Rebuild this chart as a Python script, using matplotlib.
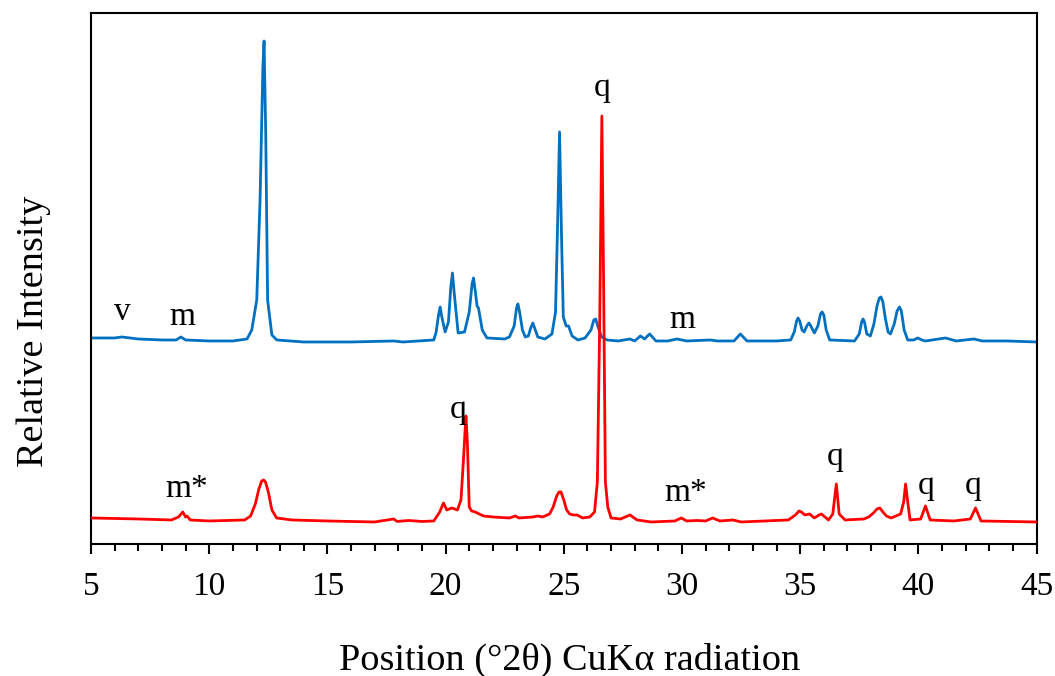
import matplotlib
matplotlib.use("Agg")
import matplotlib.pyplot as plt
from matplotlib.ticker import MultipleLocator, NullLocator

plt.rcParams['font.family'] = ['Liberation Serif', 'DejaVu Serif']

# upper pattern (blue), 2theta and relative intensity
blue_x = [5.0, 6.0, 6.3, 7.0, 8.0, 8.6, 8.8, 9.0, 10.0, 11.0, 11.6, 11.80, 12.01, 12.15,
          12.27, 12.32, 12.39, 12.47, 12.65, 12.86, 14.0, 16.0, 17.8, 18.2, 19.5,
          19.6, 19.7, 19.77, 19.84, 19.98, 20.12, 20.22, 20.29, 20.36, 20.53, 20.8, 21.0,
          21.12, 21.18, 21.26, 21.33, 21.39, 21.55, 21.75, 22.5, 22.7, 22.9, 23.0, 23.06,
          23.13, 23.25, 23.37, 23.5, 23.6, 23.69, 23.78, 23.9, 24.2, 24.5, 24.65, 24.74,
          24.82, 24.9, 24.98, 25.1, 25.2, 25.35, 25.6, 25.9, 26.15, 26.27, 26.35, 26.45,
          26.6, 26.83, 27.3, 27.8, 28.0, 28.24, 28.42, 28.63, 28.9, 29.4, 29.79, 30.2,
          31.2, 31.5, 32.2, 32.47, 32.75, 34.0, 34.6, 34.75, 34.85, 34.91, 34.98, 35.08,
          35.17, 35.28, 35.37, 35.45, 35.6, 35.75, 35.86, 35.93, 36.0, 36.1, 36.25, 37.3,
          37.5, 37.6, 37.66, 37.72, 37.82, 37.97, 38.12, 38.25, 38.35, 38.42, 38.5, 38.6,
          38.72, 38.82, 38.98, 39.1, 39.2, 39.28, 39.4, 39.55, 39.8, 39.98, 40.15, 40.3,
          41.15, 41.6, 42.35, 42.7, 43.75, 45.0]
blue_y = [4, 4, 5, 3, 2, 2, 5, 2, 1, 1, 3, 12, 42, 142,
          275, 301, 209, 42, 7, 2, 0, 0, 1, 0, 2,
          10, 27, 35, 25, 10, 20, 55, 69, 50, 9, 10, 30,
          58, 64, 50, 36, 34, 12, 4, 3, 5, 16, 34, 38,
          30, 12, 5, 6, 14, 19, 13, 5, 3, 8, 30, 120,
          210, 110, 25, 16, 16, 6, 2, 4, 12, 22, 23, 15,
          5, 2, 1, 3, 1, 6, 3, 8, 1, 1, 3, 1,
          2, 1, 1, 8, 1, 1, 2, 10, 21, 24, 21, 12,
          10, 16, 19, 16, 9, 16, 28, 30, 27, 12, 2, 1,
          8, 20, 23, 20, 8, 6, 18, 36, 44, 45, 40, 24,
          10, 8, 18, 31, 35, 31, 12, 2, 2, 4, 2, 1,
          4, 1, 3, 1, 1, 0]

# lower pattern (red)
red_x = [5.0, 7.0, 8.4, 8.7, 8.88, 9.0, 9.06, 9.2, 10.0, 11.5, 11.75, 11.95, 12.1, 12.22,
         12.3, 12.38, 12.5, 12.65, 12.85, 13.5, 15.0, 17.0, 17.8, 17.95, 18.43, 19.0,
         19.5, 19.75, 19.91, 20.05, 20.26, 20.5, 20.65, 20.75, 20.82, 20.86, 20.92, 21.0,
         21.1, 21.25, 21.6, 22.0, 22.7, 22.95, 23.1, 23.7, 23.9, 24.1, 24.4, 24.55, 24.7,
         24.8, 24.88, 25.0, 25.12, 25.25, 25.4, 25.56, 25.8, 26.1, 26.3, 26.42, 26.52,
         26.61, 26.68, 26.76, 26.86, 27.0, 27.4, 27.8, 28.1, 28.7, 29.7, 29.97, 30.2,
         30.64, 31.0, 31.3, 31.6, 32.16, 32.5, 34.5, 34.8, 34.95, 35.05, 35.2, 35.4,
         35.6, 35.8, 35.9, 36.05, 36.2, 36.38, 36.53, 36.65, 36.9, 37.7, 37.9, 38.1,
         38.25, 38.37, 38.5, 38.65, 38.85, 39.25, 39.38, 39.46, 39.55, 39.65, 40.1, 40.3,
         40.5, 41.5, 42.2, 42.42, 42.65, 45.0]
red_y = [4, 3, 2, 5, 10, 5, 6, 2, 1, 2, 6, 18, 33, 41,
         42, 40, 30, 12, 4, 2, 1, 0, 3, 0.5, 1.5, 0.5,
         1, 10, 19, 12, 14, 12, 22, 60, 90, 106, 80, 15,
         11, 10, 6, 5, 4, 6, 4, 5, 6, 5, 8, 15, 26,
         30, 30, 22, 12, 8, 7, 7, 4, 5, 10, 40, 200,
         406, 250, 40, 15, 4, 3, 7, 2, 0, 1, 4, 1,
         1.5, 1, 4, 1, 2, 0, 2, 7, 11, 10, 7, 8,
         4, 7, 8, 5, 2, 8, 38, 8, 2, 3, 5, 9,
         13, 14, 10, 6, 4, 8, 20, 38, 20, 2, 3, 16,
         2, 1, 3, 14, 1, 0]

blue_offset = 202
red_offset = 22

# peak labels: (text, 2theta, height on the plot)
label_txt = ['v', 'm', 'q', 'm', 'm*', 'q', 'm*', 'q', 'q', 'q']
label_x = [6.34, 8.84, 26.62, 30.02, 9.05, 20.55, 30.14, 36.49, 40.34, 42.30]
label_y = [232, 227, 456, 224, 55, 134, 51, 87, 58, 58]

fig = plt.figure(figsize=(10.55, 6.76), dpi=100)
ax = fig.add_axes([0.0863, 0.1953, 0.8962, 0.7855])

ax.plot(blue_x, [v + blue_offset for v in blue_y], color='#0070C0', lw=2.0, zorder=2)
ax.plot(red_x, [v + red_offset for v in red_y], color='#FF0000', lw=2.0, zorder=3)

for t, x, y in zip(label_txt, label_x, label_y):
    ax.text(x, y, t, fontsize=24, ha='center', va='center')

ax.set_xlim(5, 45)
ax.set_ylim(0, 531)
ax.xaxis.set_major_locator(MultipleLocator(5))
ax.xaxis.set_minor_locator(MultipleLocator(1))
ax.yaxis.set_major_locator(NullLocator())
ax.tick_params(axis='x', which='major', direction='out', length=7, width=1.5,
               labelsize=24, pad=13)
ax.tick_params(axis='x', which='minor', direction='out', length=5, width=1.5)
for s in ax.spines.values():
    s.set_linewidth(1.5)

ax.set_xlabel('Position (°2θ) CuKα radiation', fontsize=27.5)
ax.xaxis.label.set_va('baseline')
ax.xaxis.set_label_coords(0.5066, -0.2373)
ax.set_ylabel('Relative Intensity', fontsize=27.5)
ax.yaxis.label.set_va('baseline')
ax.yaxis.set_label_coords(-0.0504, 0.400)

fig.savefig('out.png', dpi=100)
